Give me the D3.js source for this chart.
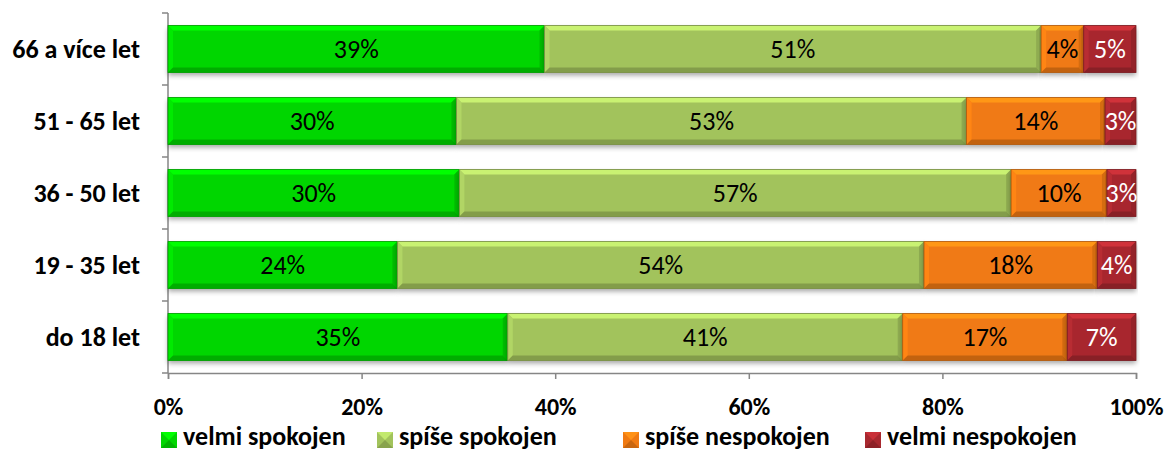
<!DOCTYPE html>
<html>
<head>
<meta charset="utf-8">
<script src="https://cdn.jsdelivr.net/npm/d3@7"></script>
<style>
  body { margin: 0; background: #fff; }
  svg { display: block; font-family: Carlito, "Open Sans", "Liberation Sans", sans-serif; }
</style>
</head>
<body>
<div id="chart"></div>
<script>
// categories, top to bottom
const groups = ["66 a více let", "51 - 65 let", "36 - 50 let", "19 - 35 let", "do 18 let"];
const seriesNames = ["velmi spokojen", "spíše spokojen", "spíše nespokojen", "velmi nespokojen"];
const velmiSpokojen   = [38.9, 29.8, 30.1, 23.7, 35.1];
const spiseSpokojen   = [51.3, 52.7, 57.0, 54.4, 40.8];
const spiseNespokojen = [4.4, 14.3, 9.9, 17.9, 17.0];
const velmiNespokojen = [5.4, 3.2, 3.0, 4.0, 7.1];
const xTicks = [0, 20, 40, 60, 80, 100];

const colors = ["#00d600", "#a2c35c", "#f07a12", "#a8282f"];
const textColors = ["#000", "#000", "#000", "#fff"];

const W = 1172, H = 453;
const margin = {left: 168, right: 36, top: 13, bottom: 80};

const svg = d3.select("#chart").append("svg").attr("width", W).attr("height", H);
const defs = svg.append("defs");
const shadow = defs.append("filter").attr("id", "shadow")
  .attr("x", "-5%").attr("y", "-20%").attr("width", "110%").attr("height", "160%");
shadow.append("feDropShadow").attr("dx", 0).attr("dy", 3).attr("stdDeviation", 2.5)
  .attr("flood-color", "#000").attr("flood-opacity", 0.35);

const x = d3.scaleLinear().domain([0, 100]).range([margin.left, W - margin.right]);
const y = d3.scaleBand().domain(groups).range([margin.top, H - margin.bottom]).paddingInner(0.35).paddingOuter(0.175);

const table = groups.map((g, i) => ({
  group: g,
  s0: velmiSpokojen[i], s1: spiseSpokojen[i], s2: spiseNespokojen[i], s3: velmiNespokojen[i]
}));
const stacked = d3.stack().keys(["s0", "s1", "s2", "s3"])(table);

// axes
const axisColor = "#868686";
const yAxisG = svg.append("g");
yAxisG.append("line").attr("x1", x(0)).attr("x2", x(0))
  .attr("y1", margin.top).attr("y2", H - margin.bottom).attr("stroke", axisColor).attr("stroke-width", 1.5);
const step = y.step();
for (let i = 0; i <= groups.length; i++) {
  const yy = margin.top + i * step;
  yAxisG.append("line").attr("x1", x(0) - 6).attr("x2", x(0)).attr("y1", yy).attr("y2", yy)
    .attr("stroke", axisColor).attr("stroke-width", 1.5);
}
const xAxisG = svg.append("g").attr("transform", "translate(0," + (H - margin.bottom) + ")")
  .call(d3.axisBottom(x).tickValues(xTicks).tickSize(6).tickFormat(d => d + "%"));
xAxisG.select(".domain").attr("stroke", axisColor).attr("stroke-width", 1.5);
xAxisG.selectAll(".tick line").attr("stroke", axisColor).attr("stroke-width", 1.5);
xAxisG.selectAll(".tick text").attr("fill", "#000").attr("font-size", 24).attr("font-weight", "bold")
  .attr("font-family", "Carlito, 'Open Sans', sans-serif").attr("y", 42).attr("dy", 0);

// category labels
svg.append("g").selectAll("text").data(groups).join("text")
  .attr("x", x(0) - 28).attr("y", d => y(d) + y.bandwidth() / 2)
  .attr("dy", "0.35em").attr("text-anchor", "end")
  .attr("font-size", 26).attr("font-weight", "bold").text(d => d);

// bars with bevel
const bev = 5;
stacked.forEach((layer, si) => {
  const base = d3.color(colors[si]);
  const g = svg.append("g");
  layer.forEach((d, i) => {
    const x0 = x(d[0]), x1 = x(d[1]);
    const y0 = y(groups[i]), h = y.bandwidth(), y1 = y0 + h;
    const w = x1 - x0;
    const cell = g.append("g");
    cell.append("rect").attr("x", x0).attr("y", y0).attr("width", w).attr("height", h)
      .attr("fill", base.formatHex()).attr("filter", "url(#shadow)");
    const b = Math.min(bev, w / 2);
    // top bevel
    cell.append("polygon").attr("points", [[x0, y0], [x1, y0], [x1 - b, y0 + b], [x0 + b, y0 + b]].join(" "))
      .attr("fill", base.brighter(0.6).formatHex());
    // left bevel
    cell.append("polygon").attr("points", [[x0, y0], [x0 + b, y0 + b], [x0 + b, y1 - b], [x0, y1]].join(" "))
      .attr("fill", base.brighter(0.25).formatHex());
    // right bevel
    cell.append("polygon").attr("points", [[x1, y0], [x1, y1], [x1 - b, y1 - b], [x1 - b, y0 + b]].join(" "))
      .attr("fill", base.darker(0.35).formatHex());
    // bottom bevel
    cell.append("polygon").attr("points", [[x0, y1], [x0 + b, y1 - b], [x1 - b, y1 - b], [x1, y1]].join(" "))
      .attr("fill", base.darker(0.6).formatHex());
    cell.append("rect").attr("x", x0).attr("y", y0).attr("width", w).attr("height", h)
      .attr("fill", "none").attr("stroke", base.darker(0.9).formatHex()).attr("stroke-width", 0.8);
    cell.append("text").attr("x", (x0 + x1) / 2).attr("y", y0 + h / 2).attr("dy", "0.35em")
      .attr("text-anchor", "middle").attr("font-size", 26).attr("fill", textColors[si])
      .text(Math.round(d.data["s" + si]) + "%");
  });
});

// legend
const legendX = [161, 377, 623, 865];
const legend = svg.append("g");
seriesNames.forEach((name, i) => {
  const base = d3.color(colors[i]);
  const lx = legendX[i], ly = 432;
  legend.append("rect").attr("x", lx).attr("y", ly).attr("width", 16).attr("height", 16)
    .attr("fill", base.formatHex());
  legend.append("polygon").attr("points", [[lx, ly], [lx + 16, ly], [lx + 8, ly + 8]].join(" "))
    .attr("fill", base.brighter(0.5).formatHex());
  legend.append("polygon").attr("points", [[lx, ly + 16], [lx + 16, ly + 16], [lx + 8, ly + 8]].join(" "))
    .attr("fill", base.darker(0.5).formatHex());
  legend.append("text").attr("x", lx + 22).attr("y", 445)
    .attr("font-size", 26).attr("font-weight", "bold").text(name);
});
</script>
</body>
</html>
